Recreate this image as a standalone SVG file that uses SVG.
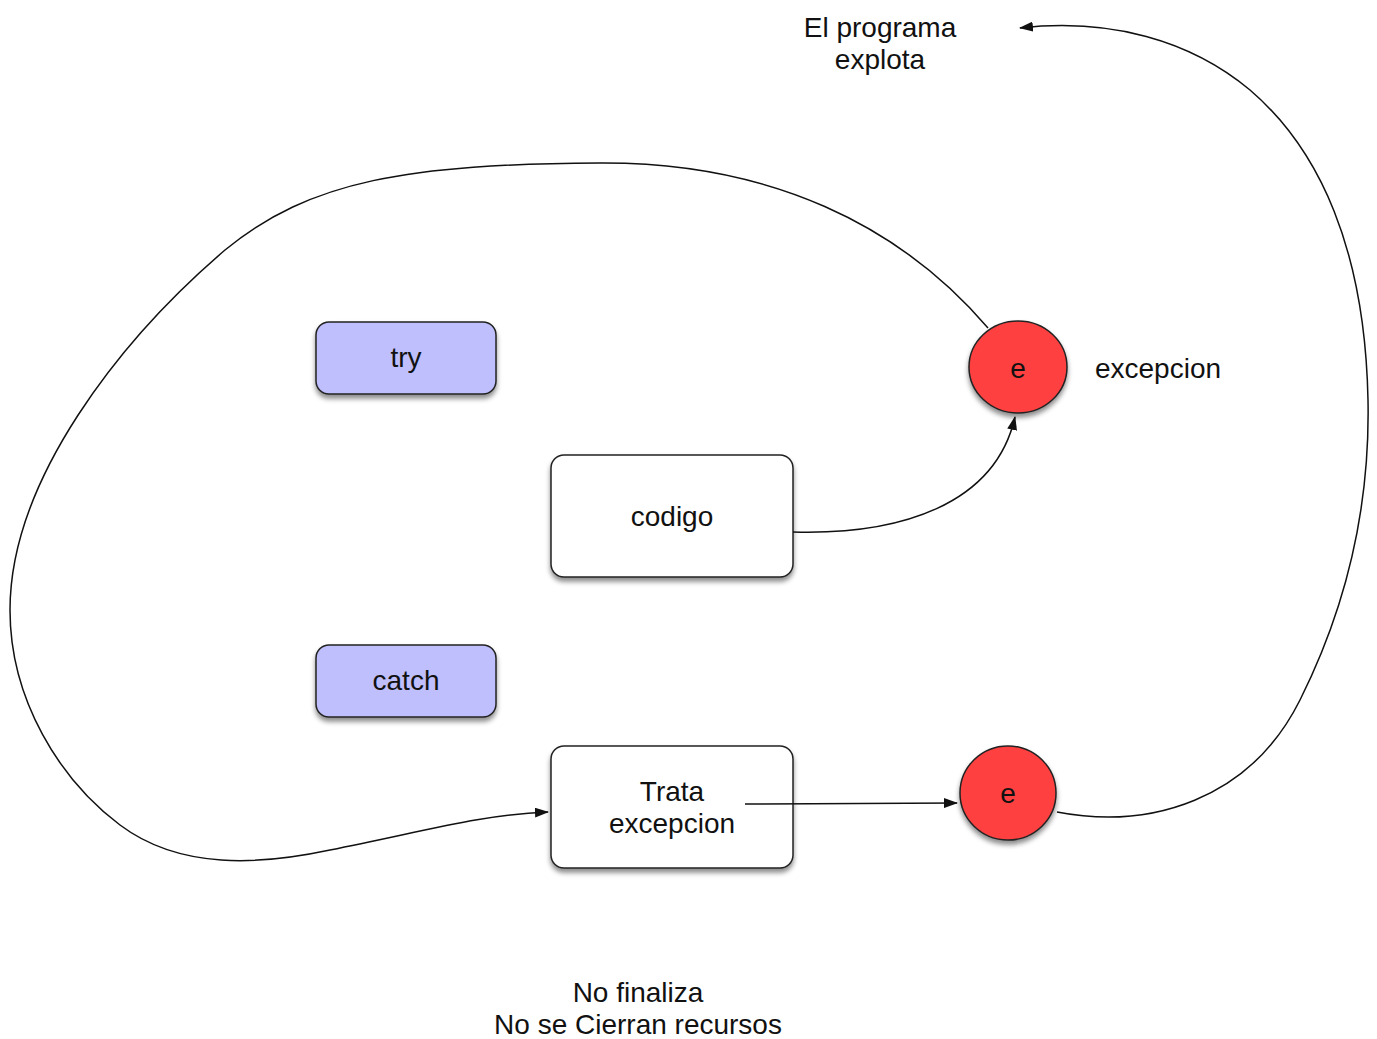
<svg xmlns="http://www.w3.org/2000/svg" width="1377" height="1039" viewBox="0 0 1377 1039">
<style>
  text { font-family: "Liberation Sans", Arial, sans-serif; font-size: 28px; fill: #111; text-anchor: middle; }
  .kw { fill: #bfbffd; stroke: #222; stroke-width: 1.5; }
  .box { fill: #ffffff; stroke: #222; stroke-width: 1.5; }
  .ev { fill: #fe4040; stroke: #222; stroke-width: 1.5; }
  .conn { fill: none; stroke: #111; stroke-width: 1.5; }
</style>
<defs>
  <filter id="sh" x="-20%" y="-20%" width="140%" height="150%">
    <feDropShadow dx="0" dy="4" stdDeviation="2.5" flood-color="#000" flood-opacity="0.45"/>
  </filter>
  <marker id="arr" viewBox="0 0 14 10" refX="13" refY="5" markerWidth="14" markerHeight="10" markerUnits="userSpaceOnUse" orient="auto">
    <path d="M0,0 L14,5 L0,10 Z" fill="#111"/>
  </marker>
</defs>
<rect width="1377" height="1039" fill="#ffffff"/>

<g id="try">
  <rect class="kw" x="316" y="322" width="180" height="72" rx="13" filter="url(#sh)"/>
  <text x="406" y="367">try</text>
</g>
<g id="catch">
  <rect class="kw" x="316" y="645" width="180" height="72" rx="13" filter="url(#sh)"/>
  <text x="406" y="690">catch</text>
</g>
<g id="codigo">
  <rect class="box" x="551" y="455" width="242" height="122" rx="13" filter="url(#sh)"/>
  <text x="672" y="526">codigo</text>
</g>
<g id="trata">
  <rect class="box" x="551" y="746" width="242" height="122" rx="13" filter="url(#sh)"/>
  <text x="672" y="801">Trata</text>
  <text x="672" y="833">excepcion</text>
</g>
<g id="e1">
  <ellipse class="ev" cx="1018" cy="367" rx="49" ry="46" filter="url(#sh)"/>
  <text x="1018" y="378">e</text>
</g>
<g id="e2">
  <ellipse class="ev" cx="1008" cy="793" rx="48" ry="47" filter="url(#sh)"/>
  <text x="1008" y="803">e</text>
</g>
<g id="label-excepcion">
  <text x="1158" y="378">excepcion</text>
</g>
<g id="label-explota">
  <text x="880" y="37">El programa</text>
  <text x="880" y="69">explota</text>
</g>
<g id="label-nofinaliza">
  <text x="638" y="1002">No finaliza</text>
  <text x="638" y="1034">No se Cierran recursos</text>
</g>

<g id="connectors">
  <path class="conn" d="M793,532 C 900,535 995,505 1015,417" marker-end="url(#arr)"/>
  <path class="conn" d="M988,328 C 900,225 770,162 600,163 C 410,164 310,180 225,250 C 120,340 10,480 10,610 C 10,700 60,780 120,825 C 180,870 260,865 330,850 C 430,830 480,815 548,812" marker-end="url(#arr)"/>
  <path class="conn" d="M745,804 L957,803" marker-end="url(#arr)"/>
  <path class="conn" d="M1057,812 C 1150,830 1250,800 1300,700 C 1350,600 1370,500 1368,400 C 1365,250 1320,150 1250,90 C 1190,40 1110,18 1020,28" marker-end="url(#arr)"/>
</g>
</svg>
